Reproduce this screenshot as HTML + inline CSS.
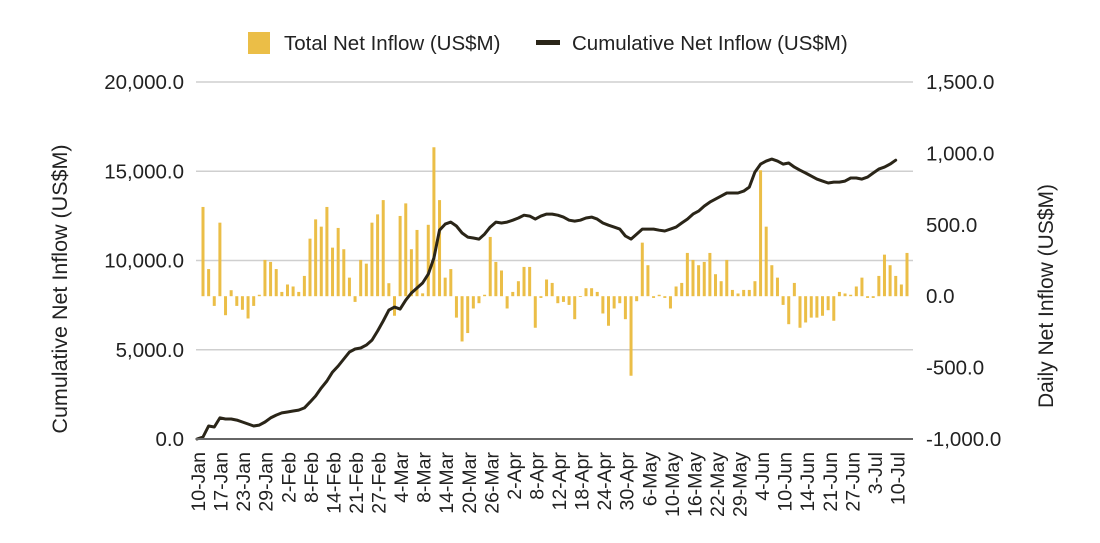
<!DOCTYPE html>
<html><head><meta charset="utf-8">
<style>
body{margin:0;background:#fff;}
svg{display:block;font-family:"Liberation Sans",Arial,sans-serif;}
</style></head>
<body>
<svg id="chart" width="1100" height="543" viewBox="0 0 1100 543" xmlns="http://www.w3.org/2000/svg">
  <g>
    <rect x="248" y="32" width="22" height="22" fill="#EBBE47"/>
    <text x="284" y="50" font-size="20.5" fill="#222">Total Net Inflow (US$M)</text>
    <rect x="536" y="40" width="24" height="5" fill="#2A2518"/>
    <text x="572" y="50" font-size="20.5" fill="#222">Cumulative Net Inflow (US$M)</text>
  </g>
  <g id="grid"></g>
  <g id="bars"></g>
  <g id="line"></g>
  <g id="axes"></g>
  <text transform="translate(67,289) rotate(-90)" text-anchor="middle" font-size="21.5" fill="#222">Cumulative Net Inflow (US$M)</text>
  <text transform="translate(1053,296) rotate(-90)" text-anchor="middle" font-size="21" fill="#222">Daily Net Inflow (US$M)</text>
</svg>
<script>
const dailyValues=[625,190,-68,515,-133,42,-68,-95,-156,-68,10,254,240,190,30,82,68,30,142,403,538,487,625,340,478,329,130,-40,254,228,515,573,673,91,-137,562,650,329,464,20,500,1043,673,130,190,-150,-317,-258,-86,-49,10,415,240,180,-86,30,105,205,205,-221,-12,117,93,-49,-40,-61,-161,0,56,56,30,-121,-207,-86,-49,-161,-557,-35,375,217,-12,10,-12,-86,68,93,303,254,217,240,303,154,105,254,44,19,44,44,105,882,487,217,130,-61,-196,93,-221,-184,-150,-150,-137,-98,-172,30,19,10,68,130,-12,-12,142,291,217,142,82,303];
const cumulativeValues=[112,730,670,1180,1120,1120,1060,950,840,730,780,950,1180,1340,1460,1510,1570,1620,1740,2070,2410,2860,3250,3750,4090,4480,4870,5040,5100,5260,5540,6050,6610,7220,7390,7280,7780,8180,8460,8740,9240,10140,11700,12040,12150,11930,11540,11310,11260,11200,11480,11870,12150,12100,12150,12260,12380,12540,12490,12320,12490,12600,12600,12540,12430,12260,12210,12260,12380,12430,12320,12100,11980,11870,11760,11370,11200,11480,11760,11760,11760,11700,11650,11760,11870,12100,12320,12600,12770,13050,13270,13440,13610,13780,13780,13780,13890,14110,14950,15400,15570,15680,15570,15400,15460,15230,15060,14900,14730,14560,14450,14340,14390,14390,14450,14620,14620,14560,14670,14900,15120,15230,15400,15620];
const dateLabels=["10-Jan","17-Jan","23-Jan","29-Jan","2-Feb","8-Feb","14-Feb","21-Feb","27-Feb","4-Mar","8-Mar","14-Mar","20-Mar","26-Mar","2-Apr","8-Apr","12-Apr","18-Apr","24-Apr","30-Apr","6-May","10-May","16-May","22-May","29-May","4-Jun","10-Jun","14-Jun","21-Jun","27-Jun","3-Jul","10-Jul"];
const leftTicks=[0,5000,10000,15000,20000];
const rightTicks=[-1000,-500,0,500,1000,1500];

const NS="http://www.w3.org/2000/svg";
const plotTop=82, plotBottom=439, x0=203, x1=907;
const n=dailyValues.length;
function xIdx(i){return x0+(x1-x0)*i/(n-1);}
function yLeft(v){return plotBottom-(v/20000)*(plotBottom-plotTop);}
function yRight(v){return plotBottom-((v+1000)/2500)*(plotBottom-plotTop);}
function fmt(v){return v.toLocaleString('en-US',{minimumFractionDigits:1,maximumFractionDigits:1});}
function mk(tag,attrs,parent){const e=document.createElementNS(NS,tag);for(const k in attrs)e.setAttribute(k,attrs[k]);parent.appendChild(e);return e;}

const grid=document.getElementById('grid'), axes=document.getElementById('axes');
leftTicks.forEach(v=>{
  const y=yLeft(v);
  if(v>0){const g=mk('line',{x1:196,x2:913,y1:y,y2:y,stroke:'#CFCFCF','stroke-width':1.5},grid);
  
  }
  const t=mk('text',{x:184,y:y+7,'text-anchor':'end','font-size':20.5,fill:'#222'},axes);
  t.textContent=fmt(v);
  
  
});
rightTicks.forEach(v=>{
  const y=yRight(v);
  const t=mk('text',{x:926,y:y+7,'text-anchor':'start','font-size':20.5,fill:'#222'},axes);
  t.textContent=fmt(v);
  
  
});
const base=mk('line',{x1:196,x2:913,y1:plotBottom,y2:plotBottom,stroke:'#666','stroke-width':2},axes);



const labelStep=124.2/(dateLabels.length-1);
dateLabels.forEach((d,i)=>{
  const x=xIdx(i*labelStep)+2;
  const t=mk('text',{transform:`translate(${x},452) rotate(-90)`,'text-anchor':'end','font-size':19.5,fill:'#222'},axes);
  t.textContent=d;
  
  
});

const bars=document.getElementById('bars');
dailyValues.forEach((v,i)=>{
  const x=xIdx(i), y0=yRight(0), y=yRight(v);
  const r=mk('rect',{x:x-1.5,y:Math.min(y,y0),width:3,height:Math.max(0.8,Math.abs(y-y0)),fill:'#EBBE47'},bars);
  
  
});

const pts=cumulativeValues.map((v,i)=>xIdx(i).toFixed(1)+','+yLeft(v).toFixed(1));
pts.unshift('197,'+yLeft(0));
const pl=mk('polyline',{points:pts.join(' '),fill:'none',stroke:'#2A2518','stroke-width':3,'stroke-linejoin':'round','stroke-linecap':'round'},document.getElementById('line'));


</script>
</body></html>
